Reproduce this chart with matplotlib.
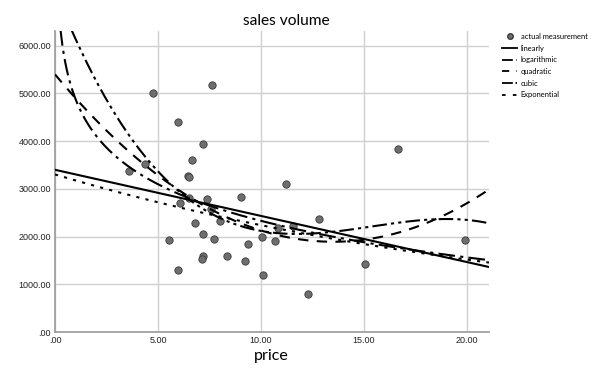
import numpy as np
import matplotlib
matplotlib.use("Agg")
import matplotlib.pyplot as plt
from matplotlib.ticker import FuncFormatter
from matplotlib.lines import Line2D

price = [4.75, 7.60, 5.95, 7.20, 6.65, 6.47, 6.50, 4.35, 3.60, 7.40, 9.05, 11.20,
         6.08, 6.50, 7.57, 6.78, 8.00, 7.17, 5.55, 7.72, 9.35, 10.06, 10.70, 10.84,
         11.55, 7.17, 7.14, 8.37, 9.20, 5.97, 10.11, 12.83, 12.30, 15.05, 19.92, 16.67]
sales = [5020, 5180, 4410, 3950, 3600, 3270, 3240, 3520, 3380, 2790, 2820, 3100,
         2710, 2800, 2570, 2290, 2330, 2050, 1930, 1950, 1840, 1990, 1910, 2190,
         2220, 1600, 1530, 1600, 1495, 1290, 1190, 2375, 800, 1425, 1920, 3830]

series_names = ["actual measurement", "linearly", "logarithmic", "quadratic", "cubic", "Exponential"]
title = "sales volume"
xlabel = "price"

x = np.array(price)
y = np.array(sales)

plt.rcParams['font.family'] = ['Liberation Sans', 'DejaVu Sans']
fig = plt.figure(figsize=(5.92, 3.69), dpi=100)
ax = fig.add_axes([55/592, 1-332/369, (489-55)/592, (332-31)/369])

xmax = 21.07
ymax = 6310
xs = np.linspace(0.001, xmax, 600)

lin = np.polyfit(x, y, 1)
logc = np.polyfit(np.log(x), y, 1)
quad = np.polyfit(x, y, 2)
cub = np.polyfit(x, y, 3)
expc = np.polyfit(x, np.log(y), 1)

lw = 1.5
d_log = (8, 2.5, 1.5, 2.5)
d_quad = (5, 4)
d_cub = (7, 2, 1.5, 2, 1.5, 2)
d_exp = (1.5, 3)

ax.scatter(x, y, s=28, facecolor="#6e6e6e", edgecolor="#3a3a3a", linewidth=0.6, zorder=3)
ax.plot(xs, np.polyval(lin, xs), color="black", lw=lw, ls="-", zorder=4)
ax.plot(xs, logc[1] + logc[0]*np.log(xs), color="black", lw=lw, dashes=d_log, zorder=4)
ax.plot(xs, np.polyval(quad, xs), color="black", lw=lw, dashes=d_quad, zorder=4)
ax.plot(xs, np.polyval(cub, xs), color="black", lw=lw, dashes=d_cub, zorder=4)
ax.plot(xs, np.exp(expc[1])*np.exp(expc[0]*xs), color="black", lw=lw, dashes=d_exp, zorder=4)

ax.set_xlim(0, xmax)
ax.set_ylim(0, ymax)
ax.set_xticks([0, 5, 10, 15, 20])
ax.set_yticks([0, 1000, 2000, 3000, 4000, 5000, 6000])

def fmt(v, pos):
    s = "%.2f" % v
    if s.startswith("0"):
        s = s[1:]
    return s
ax.xaxis.set_major_formatter(FuncFormatter(fmt))
ax.yaxis.set_major_formatter(FuncFormatter(fmt))
ax.tick_params(labelsize=6.5, length=0, colors="#222222", pad=3)
ax.grid(True, color="#d0d0d0", lw=1.0)
ax.set_axisbelow(True)
for s in ["top", "right"]:
    ax.spines[s].set_visible(False)
for s in ["left", "bottom"]:
    ax.spines[s].set_color("#9a9a9a")
    ax.spines[s].set_linewidth(1.2)

fig.text(286/592, 1-21/369, title, ha="center", va="center", fontsize=11.2, family="Lato")
fig.text(271/592, 1-356/369, xlabel, ha="center", va="center", fontsize=11.5, family="Lato")

lw_leg = 1.3
handles = [
    Line2D([], [], ls="none", marker="o", markersize=4, markerfacecolor="#6e6e6e", markeredgecolor="#3a3a3a"),
    Line2D([], [], color="black", lw=lw_leg, ls="-"),
    Line2D([], [], color="black", lw=lw_leg, dashes=(6, 2, 1.5, 2)),
    Line2D([], [], color="black", lw=lw_leg, dashes=(4, 4, 1.5, 2)),
    Line2D([], [], color="black", lw=lw_leg, dashes=(6, 1.5, 1.5, 1.5, 1.5, 1.5)),
    Line2D([], [], color="black", lw=lw_leg, dashes=(2, 4)),
]
leg = fig.legend(handles, series_names, loc="upper left", bbox_to_anchor=(502/592, 1-33/369),
                 frameon=False, handlelength=2.0, handletextpad=0.5,
                 labelspacing=0.62, borderaxespad=0, borderpad=0,
                 prop={"family": "Lato", "size": 5.4})

fig.savefig("out.png", dpi=100)
